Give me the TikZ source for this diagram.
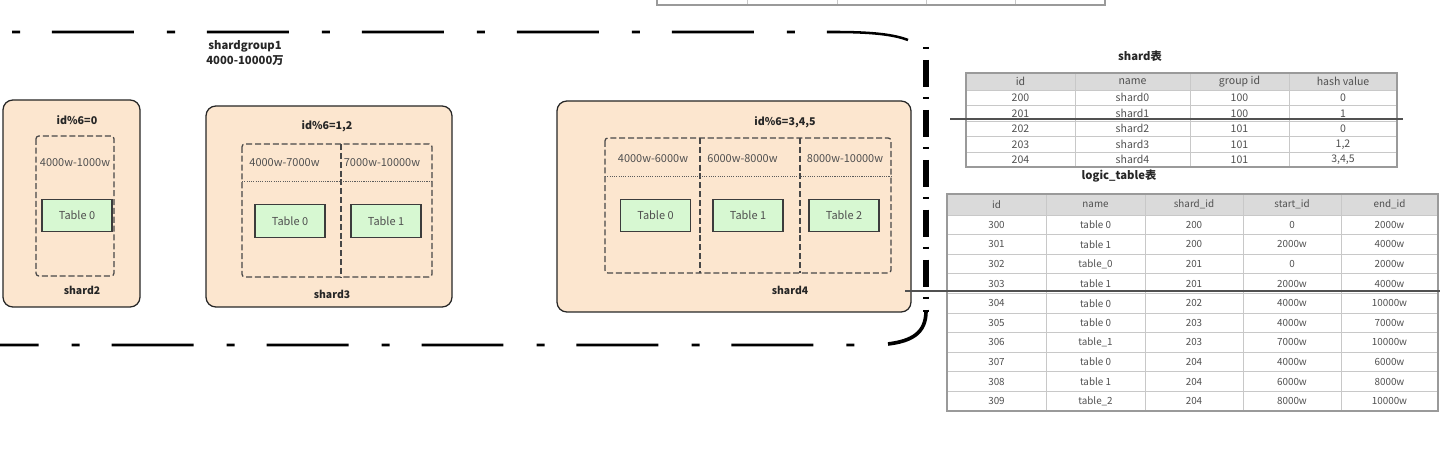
\documentclass[tikz,border=0pt]{standalone}
\usepackage{fontspec}
\setmainfont{Noto Sans CJK SC}
\newfontfamily\cjk{Noto Sans CJK SC}
\usetikzlibrary{positioning}
\definecolor{peach}{HTML}{FCE6CF}
\definecolor{mint}{HTML}{D7F8D2}
\definecolor{edge}{HTML}{262626}
\definecolor{txt}{HTML}{505050}
\definecolor{hdr}{HTML}{DADADA}
\definecolor{rule}{HTML}{C8C8C8}
\definecolor{frame}{HTML}{9A9A9A}

\tikzset{
  grpline/.style={line width=1.8pt,dash pattern=on 58.3pt off 23.5pt on 5.7pt off 22.7pt},
  grpside/.style={line width=3.6pt,dash pattern=on 1.4pt off 7.8pt on 19.2pt off 7.1pt},
  shardbox/.style={draw=edge,fill=peach,line width=0.9pt,rounded corners=7pt},
  rangebox/.style={draw=edge!85,line width=0.9pt,dash pattern=on 4.3pt off 2pt},
  divline/.style={draw=edge!75,line width=0.7pt,dash pattern=on 0.8pt off 0.8pt},
  tbl/.style={draw=edge!90,fill=mint,line width=0.8pt,minimum width=1.75cm,
    minimum height=0.82cm,text=txt,font=\fontsize{7.8}{9}\selectfont},
  rng/.style={text=txt,font=\fontsize{7.8}{9}\selectfont},
  cond/.style={text=edge,font=\bfseries\fontsize{7.6}{9}\selectfont},
  shname/.style={text=edge,font=\bfseries\fontsize{7.4}{9}\selectfont},
  ttl/.style={text=edge,font=\bfseries\fontsize{8}{10.7}\selectfont},
  cella/.style={text=txt,font=\fontsize{7.5}{8}\selectfont},
  cellb/.style={text=txt,font=\fontsize{7}{8}\selectfont},
  cutline/.style={draw=edge!80,line width=1pt}
}

\begin{document}
\begin{tikzpicture}[x=0.025cm,y=-0.025cm]
\useasboundingbox (0,0) rectangle (1440,452);

% table cut off at the top
\draw[frame,line width=0.8pt] (657,-3) -- (657,5) -- (1105,5) -- (1105,-3);
\foreach \x in {747,837,926,1015} \draw[rule,line width=0.7pt] (\x,-3) -- (\x,4.5);

% shardgroup1 outline
\draw[grpline] (-103,32) -- (835,32) .. controls (875,32) and (895,35) .. (908,40);
\draw[grpline,dash phase=61.2pt,rounded corners=21pt] (-30,250) -- (-30,345) -- (880,345);
\draw[grpside] (926,47) -- (926,312);
\draw[line width=2.6pt] (926,311) .. controls (926,333) and (912,341) .. (888,344);
\node[ttl,align=center] (grp) at (245,53.5) {shardgroup1\\4000-10000万};

% shard2
\draw[shardbox] (3,100) rectangle (140,307);
\node[cond] (c2) at (77,120) {id\%6=0};
\draw[rangebox,rounded corners=2pt] (36,136) rectangle (114,276);
\node[rng] (r2a) at (75,163) {4000w-1000w};
\node[tbl] (s2t0) at (77,215.5) {Table 0};
\node[shname] (s2) at (82,290) {shard2};

% shard3
\draw[shardbox] (206,106) rectangle (452,307);
\node[cond] (c3) at (327,126) {id\%6=1,2};
\draw[rangebox,rounded corners=2pt] (242,144) rectangle (432,277);
\draw[rangebox] (341,144) -- (341,277);
\draw[divline] (242,181) -- (432,181);
\node[rng] (r3a) at (284.5,163) {4000w-7000w};
\node[rng] (r3b) at (382,163) {7000w-10000w};
\node[tbl] (s3t0) at (290,221) {Table 0};
\node[tbl] (s3t1) at (386,221) {Table 1};
\node[shname] (s3) at (332,294) {shard3};

% shard4
\draw[shardbox] (557,101) rectangle (911,312);
\node[cond] (c4) at (785,122) {id\%6=3,4,5};
\draw[rangebox,rounded corners=2pt] (605,138) rectangle (891,273);
\draw[rangebox] (700,138) -- (700,273);
\draw[rangebox] (800,138) -- (800,273);
\draw[divline] (605,176) -- (891,176);
\node[rng] (r4a) at (653,159) {4000w-6000w};
\node[rng] (r4b) at (742.5,159) {6000w-8000w};
\node[rng] (r4c) at (845,159) {8000w-10000w};
\node[tbl] (s4t0) at (655.5,215.5) {Table 0};
\node[tbl] (s4t1) at (748,215.5) {Table 1};
\node[tbl] (s4t2) at (844,215.5) {Table 2};
\node[shname] (s4) at (790,290) {shard4};

% shard table
\node[ttl] (shardttl) at (1140,56) {shard表};
\fill[hdr] (966,73) rectangle (1397,90);
\foreach \y in {90,105.5,121,136.5,152} \draw[rule,line width=0.7pt] (966,\y) -- (1397,\y);
\foreach \x in {1075,1190,1289} \draw[rule,line width=0.7pt] (\x,73) -- (\x,167);
\draw[frame,line width=0.8pt] (966,73) rectangle (1397,167);
\node[cella] (sh-0-1) at (1020.5,81.5) {id};
\node[cella] (sh-0-2) at (1132.5,81.5) {name};
\node[cella] (sh-0-3) at (1239.5,81.5) {group id};
\node[cella] (sh-0-4) at (1343,81.5) {hash value};
\foreach \a/\b/\c/\d [count=\i] in {200/shard0/100/0, 201/shard1/100/1,
    202/shard2/101/0, 203/shard3/101/{1,2}, 204/shard4/101/{3,4,5}}{
  \node[cella] (sh-\i-1) at (1020.5,{90+15.5*(\i-0.5)}) {\a};
  \node[cella] (sh-\i-2) at (1132.5,{90+15.5*(\i-0.5)}) {\b};
  \node[cella] (sh-\i-3) at (1239.5,{90+15.5*(\i-0.5)}) {\c};
  \node[cella] (sh-\i-4) at (1343,{90+15.5*(\i-0.5)}) {\d};
}

% logic_table table
\node[ttl] (logicttl) at (1119,176) {logic\_table表};
\fill[hdr] (947,194) rectangle (1438,215);
\foreach \k in {1,...,9} \draw[rule,line width=0.7pt] (947,{215+19.6*\k}) -- (1438,{215+19.6*\k});
\draw[rule,line width=0.7pt] (947,215) -- (1438,215);
\foreach \x in {1046,1145,1243,1341} \draw[rule,line width=0.7pt] (\x,194) -- (\x,411);
\draw[frame,line width=0.8pt] (947,194) rectangle (1438,411);
\node[cellb] (lg-0-1) at (996.5,204.5) {id};
\node[cellb] (lg-0-2) at (1095.5,204.5) {name};
\node[cellb] (lg-0-3) at (1194,204.5) {shard\_id};
\node[cellb] (lg-0-4) at (1292,204.5) {start\_id};
\node[cellb] (lg-0-5) at (1389.5,204.5) {end\_id};
\foreach \a/\b/\c/\d/\e [count=\i] in {300/table 0/200/0/2000w, 301/table 1/200/2000w/4000w,
    302/table\_0/201/0/2000w, 303/table 1/201/2000w/4000w, 304/table 0/202/4000w/10000w,
    305/table 0/203/4000w/7000w, 306/table\_1/203/7000w/10000w, 307/table 0/204/4000w/6000w,
    308/table 1/204/6000w/8000w, 309/table\_2/204/8000w/10000w}{
  \node[cellb] (lg-\i-1) at (996.5,{215+19.6*(\i-0.5)}) {\a};
  \node[cellb] (lg-\i-2) at (1095.5,{215+19.6*(\i-0.5)}) {\b};
  \node[cellb] (lg-\i-3) at (1194,{215+19.6*(\i-0.5)}) {\c};
  \node[cellb] (lg-\i-4) at (1292,{215+19.6*(\i-0.5)}) {\d};
  \node[cellb] (lg-\i-5) at (1389.5,{215+19.6*(\i-0.5)}) {\e};
}

% strike lines
\coordinate (cutA) at (950,119);
\coordinate (cutB) at (1403,119);
\coordinate (cutC) at (905,291);
\coordinate (cutD) at (1440,291);
\draw[cutline] (cutA) -- (cutB);
\draw[cutline] (cutC) -- (cutD);
\end{tikzpicture}
\end{document}
